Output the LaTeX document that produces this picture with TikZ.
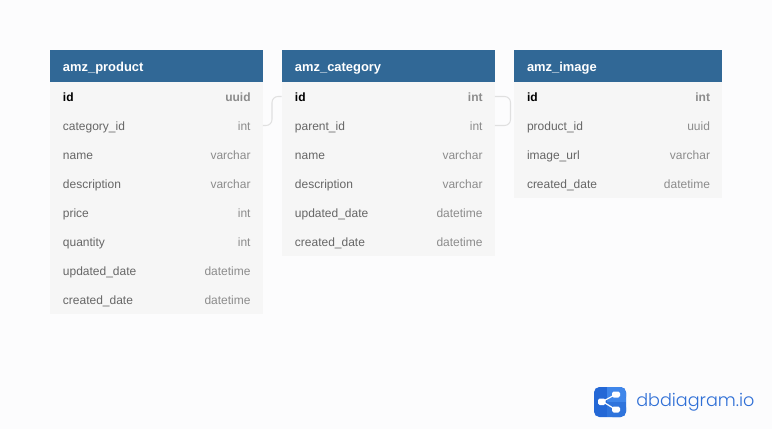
\documentclass[tikz,border=0pt]{standalone}
\usepackage{fontspec}
\setmainfont{Liberation Sans}
\newfontfamily\logofont{Poppins}[UprightFont=* Light]
\usepackage{xcolor}
\usetikzlibrary{positioning}
\definecolor{colorback}{HTML}{fcfcfd}
\definecolor{colorhead}{HTML}{316896}
\definecolor{colorrow}{HTML}{f6f6f6}
\definecolor{colorname}{HTML}{666666}
\definecolor{colortype}{HTML}{8c8c8c}
\definecolor{colorlink}{HTML}{e0e0e0}
\definecolor{colorlogo}{HTML}{2f6fd6}
\definecolor{colorlogoleft}{HTML}{2468d6}
\definecolor{colorlogotop}{HTML}{3f86ea}
\definecolor{colorlogolow}{HTML}{2f74dc}
\tikzset{
  headbox/.style={rectangle, fill=colorhead, text=white, font=\fontsize{9.7}{11}\selectfont\bfseries, minimum height=24pt, inner xsep=9.75pt, inner ysep=0pt, text height=8.5pt, text depth=1pt, align=left},
  rowbox/.style={rectangle, fill=colorrow, text=colorname, font=\fontsize{9}{11}\selectfont, minimum height=21.75pt, inner xsep=9.75pt, inner ysep=0pt, text height=8pt, text depth=1.2pt, align=left},
  keybox/.style={rowbox, text=black, font=\fontsize{9}{11}\selectfont\bfseries},
  typetext/.style={text=colortype, font=\fontsize{9}{11}\selectfont, inner xsep=9pt, inner ysep=0pt, text height=8pt, text depth=1.2pt, anchor=east},
  keytype/.style={typetext, font=\fontsize{9}{11}\selectfont\bfseries},
  wideA/.style={text width=140pt},
  wideB/.style={text width=136.5pt},
  link/.style={draw=colorlink, line width=0.8pt, rounded corners=4.5pt},
}
\begin{document}
\begin{tikzpicture}[x=0.75pt,y=-0.75pt]
\useasboundingbox (0,0) rectangle (772,429);
\fill[colorback] (0,0) rectangle (772,429);

% amz_product
\node[headbox, wideA] (product_head) at (156.25,66) {amz\_product};
\node[keybox, wideA] (product_id) at (156.25,96.5) {id};
\node[rowbox, wideA] (product_category) at (156.25,125.5) {category\_id};
\node[rowbox, wideA] (product_name) at (156.25,154.5) {name};
\node[rowbox, wideA] (product_description) at (156.25,183.5) {description};
\node[rowbox, wideA] (product_price) at (156.25,212.5) {price};
\node[rowbox, wideA] (product_quantity) at (156.25,241.5) {quantity};
\node[rowbox, wideA] (product_updated) at (156.25,270.5) {updated\_date};
\node[rowbox, wideA] (product_created) at (156.25,299.5) {created\_date};
\node[keytype] (product_id_type) at (product_id.east) {uuid};
\node[typetext] (product_category_type) at (product_category.east) {int};
\node[typetext] (product_name_type) at (product_name.east) {varchar};
\node[typetext] (product_description_type) at (product_description.east) {varchar};
\node[typetext] (product_price_type) at (product_price.east) {int};
\node[typetext] (product_quantity_type) at (product_quantity.east) {int};
\node[typetext] (product_updated_type) at (product_updated.east) {datetime};
\node[typetext] (product_created_type) at (product_created.east) {datetime};

% amz_category
\node[headbox, wideA] (category_head) at (388.25,66) {amz\_category};
\node[keybox, wideA] (category_id) at (388.25,96.5) {id};
\node[rowbox, wideA] (category_parent) at (388.25,125.5) {parent\_id};
\node[rowbox, wideA] (category_name) at (388.25,154.5) {name};
\node[rowbox, wideA] (category_description) at (388.25,183.5) {description};
\node[rowbox, wideA] (category_updated) at (388.25,212.5) {updated\_date};
\node[rowbox, wideA] (category_created) at (388.25,241.5) {created\_date};
\node[keytype] (category_id_type) at (category_id.east) {int};
\node[typetext] (category_parent_type) at (category_parent.east) {int};
\node[typetext] (category_name_type) at (category_name.east) {varchar};
\node[typetext] (category_description_type) at (category_description.east) {varchar};
\node[typetext] (category_updated_type) at (category_updated.east) {datetime};
\node[typetext] (category_created_type) at (category_created.east) {datetime};

% amz_image
\node[headbox, wideB] (image_head) at (618,66) {amz\_image};
\node[keybox, wideB] (image_id) at (618,96.5) {id};
\node[rowbox, wideB] (image_product) at (618,125.5) {product\_id};
\node[rowbox, wideB] (image_url) at (618,154.5) {image\_url};
\node[rowbox, wideB] (image_created) at (618,183.5) {created\_date};
\node[keytype] (image_id_type) at (image_id.east) {int};
\node[typetext] (image_product_type) at (image_product.east) {uuid};
\node[typetext] (image_url_type) at (image_url.east) {varchar};
\node[typetext] (image_created_type) at (image_created.east) {datetime};

% relations
\draw[link] (product_category.east) -- (272,125.5) -- (272,96.5) -- (category_id.west);
\draw[link] (category_id.east) -- (510.5,96.5) -- (510.5,125.5) -- (category_parent.east);

% logo
\fill[colorlogoleft, rounded corners=4pt] (594,387) rectangle (626,417);
\fill[colorlogotop, rounded corners=4pt] (607,387) -- (626,387) -- (626,402) -- (607,402) -- cycle;
\fill[colorlogotop] (607,387) rectangle (612,402);
\fill[colorlogotop] (607,398) rectangle (626,402);
\fill[colorlogolow, rounded corners=4pt] (607,402) -- (626,402) -- (626,417) -- (607,417) -- cycle;
\fill[colorlogolow] (607,402) rectangle (626,406);
\fill[colorlogolow] (607,402) rectangle (612,417);
\draw[white, line width=0.9pt] (602.5,401.5) -- (615.5,394.5) (602.5,401.5) -- (615.5,409.5);
\fill[white, rounded corners=1.2pt] (598,398.5) rectangle (605.5,405);
\fill[white, rounded corners=1.2pt] (612,391.5) rectangle (620,397.5);
\fill[white, rounded corners=1.2pt] (612,406.5) rectangle (620,412.5);
\node[text=colorlogo, font=\logofont\fontsize{13.2}{16}\selectfont, anchor=west, inner sep=0pt] (logo_text) at (636,402) {dbdiagram.io};
\end{tikzpicture}
\end{document}
